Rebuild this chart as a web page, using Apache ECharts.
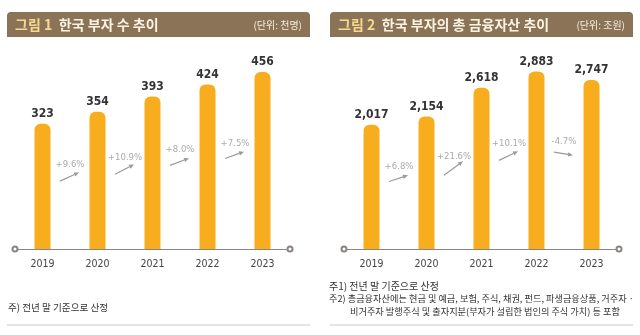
<!DOCTYPE html>
<html><head><meta charset="utf-8">
<script src="https://cdn.jsdelivr.net/npm/echarts@6/dist/echarts.min.js"></script>
<style>html,body{margin:0;padding:0;background:#fff}#c{width:640px;height:335px}</style>
</head><body><div id="c"></div>
<script>
const years = ['2019', '2020', '2021', '2022', '2023'];
const richCount = [323, 354, 393, 424, 456];
const richGrowth = ['+9.6%', '+10.9%', '+8.0%', '+7.5%'];
const assets = [2017, 2154, 2618, 2883, 2747];
const assetGrowth = ['+6.8%', '+21.6%', '+10.1%', '-4.7%'];
const title1 = ['그림 1', '한국 부자 수 추이', '(단위: 천명)'];
const title2 = ['그림 2', '한국 부자의 총 금융자산 추이', '(단위: 조원)'];
const note1 = ['주) 전년 말 기준으로 산정'];
const note2 = ['주1) 전년 말 기준으로 산정', '주2) 총금융자산에는 현금 및 예금, 보험, 주식, 채권, 펀드, 파생금융상품, 거주자 ·', '비거주자 발행주식 및 출자지분(부자가 설립한 법인의 주식 가치) 등 포함'];

const KR = "'Noto Sans CJK KR', 'Noto Sans', sans-serif";
const NUM = "'DejaVu Sans Condensed', 'Liberation Sans Narrow', 'Roboto', sans-serif";
const BAR = '#F7AD1D';

function fmt(v){ return v.toLocaleString('en-US'); }

function arrowSeries(xi, yi, vals, growth){
  return {
    type: 'custom', xAxisIndex: xi, yAxisIndex: yi, silent: true, z: 5,
    data: growth.map((g, i) => [i, g]),
    renderItem: function(params, api){
      const i = api.value(0);
      const g = growth[i];
      const pct = parseFloat(g);
      const p1 = api.coord([i, vals[i]]);
      const p2 = api.coord([i + 1, vals[i + 1]]);
      const mx = (p1[0] + p2[0]) / 2;
      const cy = api.coord([i, 0.55 * (vals[i] + vals[i + 1]) / 2])[1];
      const dy = Math.max(-3, Math.min(14, pct * 0.9));
      const x0 = mx - 10, y0 = cy + dy / 2, x1 = mx + 9, y1 = cy - dy / 2;
      const ang = Math.atan2(y1 - y0, x1 - x0);
      const L = 5, W = 2.2;
      const bx = x1 - L * Math.cos(ang), by = y1 - L * Math.sin(ang);
      const nx = -Math.sin(ang) * W, ny = Math.cos(ang) * W;
      return {
        type: 'group',
        children: [
          { type: 'line', shape: { x1: x0, y1: y0, x2: bx, y2: by }, style: { stroke: '#9a9a9a', lineWidth: 1.2 } },
          { type: 'polygon', shape: { points: [[x1, y1], [bx + nx, by + ny], [bx - nx, by - ny]] }, style: { fill: '#9a9a9a' } },
          { type: 'text', x: mx, y: cy - 12, style: { text: g, fill: '#aaaaaa', font: '9.5px ' + NUM, align: 'center', verticalAlign: 'middle' } }
        ]
      };
    }
  };
}

function barSeries(xi, yi, vals){
  return {
    type: 'bar', xAxisIndex: xi, yAxisIndex: yi, data: vals, barWidth: 16,
    itemStyle: { color: BAR, borderRadius: [6, 6, 0, 0] },
    label: { show: true, position: 'top', distance: 4, formatter: p => fmt(p.value), color: '#333', fontFamily: NUM, fontWeight: 'bold', fontSize: 12 }
  };
}

function xAx(gi){
  return {
    type: 'category', gridIndex: gi, data: years, boundaryGap: true,
    axisLine: { show: true, lineStyle: { color: '#8a8580', width: 1 }, symbol: ['emptyCircle', 'emptyCircle'], symbolSize: [5, 5] },
    axisTick: { show: false },
    axisLabel: { color: '#444', fontFamily: NUM, fontSize: 10.5, margin: 10 }
  };
}
function yAx(gi, max){
  return { type: 'value', gridIndex: gi, min: 0, max: max, show: false, splitLine: { show: false } };
}

function titleGraphics(x, w, t){
  return [
    { type: 'rect', shape: { x: x, y: 12, width: w, height: 25, r: [4, 4, 0, 0] }, style: { fill: '#8B7358' }, z: 1 },
    { type: 'text', x: x + 8, y: 24.5, style: { text: '{a|' + t[0] + '}  {b|' + t[1] + '}', verticalAlign: 'middle',
      rich: { a: { fill: '#F6D98E', font: 'bold 14px ' + KR }, b: { fill: '#FBF3E2', font: 'bold 14px ' + KR } } }, z: 2 },
    { type: 'text', x: x + w - 8, y: 25, style: { text: t[2], fill: '#F7EEDC', font: '10px ' + KR, align: 'right', verticalAlign: 'middle' }, z: 2 }
  ];
}

const graphics = [].concat(
  titleGraphics(7, 303, title1),
  titleGraphics(330, 303, title2),
  [
    { type: 'text', x: 8, y: 307, style: { text: note1[0], fill: '#333', font: '9.6px ' + KR, verticalAlign: 'middle' } },
    { type: 'text', x: 329, y: 286, style: { text: note2[0], fill: '#333', font: '10px ' + KR, verticalAlign: 'middle' } },
    { type: 'text', x: 329, y: 299, style: { text: note2[1], fill: '#333', font: '9.2px ' + KR, verticalAlign: 'middle' } },
    { type: 'text', x: 350, y: 312, style: { text: note2[2], fill: '#333', font: '9.2px ' + KR, verticalAlign: 'middle' } },
    { type: 'line', shape: { x1: 7, y1: 325, x2: 310, y2: 325 }, style: { stroke: '#c8c8c8', lineWidth: 1 } },
    { type: 'line', shape: { x1: 330, y1: 325, x2: 633, y2: 325 }, style: { stroke: '#c8c8c8', lineWidth: 1 } }
  ]
);

const chart = echarts.init(document.getElementById('c'), null, { renderer: 'canvas' });
chart.setOption({
  animation: false,
  backgroundColor: '#fff',
  grid: [
    { left: 15, width: 275, top: 55, height: 194 },
    { left: 344, width: 275, top: 52, height: 197 }
  ],
  xAxis: [xAx(0), xAx(1)],
  yAxis: [yAx(0, 500), yAx(1, 3200)],
  series: [
    barSeries(0, 0, richCount),
    barSeries(1, 1, assets),
    arrowSeries(0, 0, richCount, richGrowth),
    arrowSeries(1, 1, assets, assetGrowth)
  ],
  graphic: graphics
});
</script></body></html>
